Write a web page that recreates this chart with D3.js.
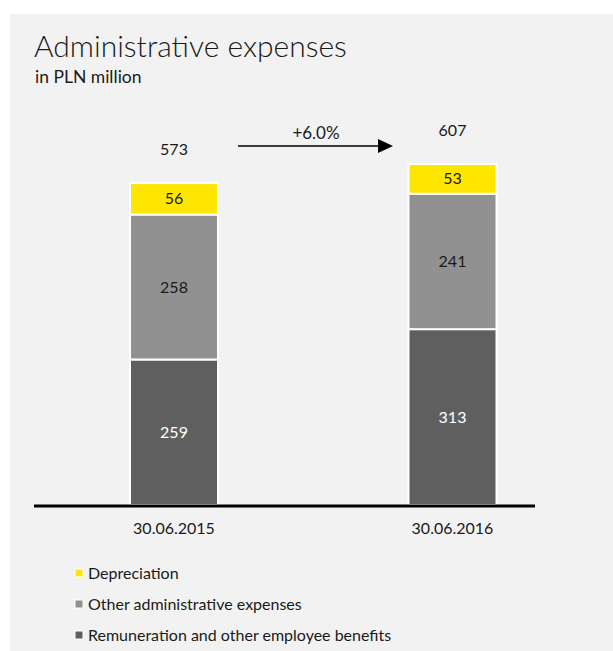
<!DOCTYPE html>
<html>
<head>
<meta charset="utf-8">
<script src="https://cdn.jsdelivr.net/npm/d3@7/dist/d3.min.js"></script>
<style>
  html, body { margin: 0; padding: 0; background: #ffffff; }
  svg { display: block; }
  text { font-family: "Lato", "Open Sans", sans-serif; fill: #1a1a1a; }
</style>
</head>
<body>
<svg id="chart" width="613" height="651"></svg>
<script>
// Administrative expenses, in PLN million
const categories = ["30.06.2015", "30.06.2016"];
const seriesNames = ["Remuneration and other employee benefits", "Other administrative expenses", "Depreciation"];
const remuneration = [259, 313];
const otherAdmin = [258, 241];
const depreciation = [56, 53];
const totals = [573, 607];
const changeLabel = "+6.0%";

const colors = ["#5f5f5f", "#919191", "#ffe600"];
const labelColors = ["#ffffff", "#1a1a1a", "#1a1a1a"];

const svg = d3.select("#chart");

// panel background
svg.append("rect").attr("x", 10).attr("y", 14).attr("width", 603).attr("height", 637).attr("fill", "#f2f2f2");

// titles
svg.append("text").attr("x", 34).attr("y", 57).style("font-size", "30px").style("font-weight", 300).text("Administrative expenses");
svg.append("text").attr("x", 35).attr("y", 83).style("font-size", "17.5px").style("font-weight", 400).text("in PLN million");

const x = d3.scalePoint().domain(categories).range([174, 452.5]);
const barW = 88;
const y = d3.scaleLinear().domain([0, 607]).range([505, 164]);

const rows = categories.map((c, i) => ({ cat: c, v0: remuneration[i], v1: otherAdmin[i], v2: depreciation[i] }));
const stack = d3.stack().keys(["v0", "v1", "v2"])(rows);

const layers = svg.append("g").selectAll("g").data(stack).join("g");
layers.each(function (layer, li) {
  const g = d3.select(this);
  g.selectAll("rect").data(layer).join("rect")
    .attr("x", d => x(d.data.cat) - barW / 2)
    .attr("y", d => y(d[1]))
    .attr("width", barW)
    .attr("height", d => y(d[0]) - y(d[1]))
    .attr("fill", colors[li])
    .attr("stroke", "#ffffff")
    .attr("stroke-width", 2);
  g.selectAll("text").data(layer).join("text")
    .attr("x", d => x(d.data.cat))
    .attr("y", d => (y(d[0]) + y(d[1])) / 2)
    .attr("dy", "0.35em")
    .attr("text-anchor", "middle")
    .style("font-size", "16px")
    .style("fill", labelColors[li])
    .text(d => d[1] - d[0]);
});

// x axis baseline
svg.append("line").attr("x1", 34).attr("x2", 535).attr("y1", 506).attr("y2", 506)
  .attr("stroke", "#000").attr("stroke-width", 3);

// category labels
svg.append("g").selectAll("text").data(categories).join("text")
  .attr("x", d => x(d)).attr("y", 528).attr("dy", "0.35em")
  .attr("text-anchor", "middle").style("font-size", "16px").text(d => d);

// totals
svg.append("g").selectAll("text").data(categories).join("text")
  .attr("x", d => x(d)).attr("y", (d, i) => y(totals[i]) - 33.5).attr("dy", "0.35em")
  .attr("text-anchor", "middle").style("font-size", "16px").text((d, i) => totals[i]);

// growth arrow
const ay = 146;
svg.append("line").attr("x1", 238).attr("x2", 380).attr("y1", ay).attr("y2", ay)
  .attr("stroke", "#000").attr("stroke-width", 1.5);
svg.append("path").attr("d", `M378,${ay - 7}L393,${ay}L378,${ay + 7}Z`).attr("fill", "#000");
svg.append("text").attr("x", 316).attr("y", 133).attr("dy", "0.35em").attr("text-anchor", "middle")
  .style("font-size", "17px").text(changeLabel);

// legend (top-down: Depreciation first)
const legendItems = [2, 1, 0];
const lg = svg.append("g").selectAll("g").data(legendItems).join("g")
  .attr("transform", (d, i) => `translate(75, ${573 + i * 31})`);
lg.append("rect").attr("x", 0).attr("y", -4).attr("width", 8).attr("height", 8)
  .attr("fill", d => colors[d]).attr("stroke", "#fff").attr("stroke-width", 1);
lg.append("text").attr("x", 13).attr("y", 0).attr("dy", "0.35em").style("font-size", "16px")
  .text(d => seriesNames[d]);
</script>
</body>
</html>
